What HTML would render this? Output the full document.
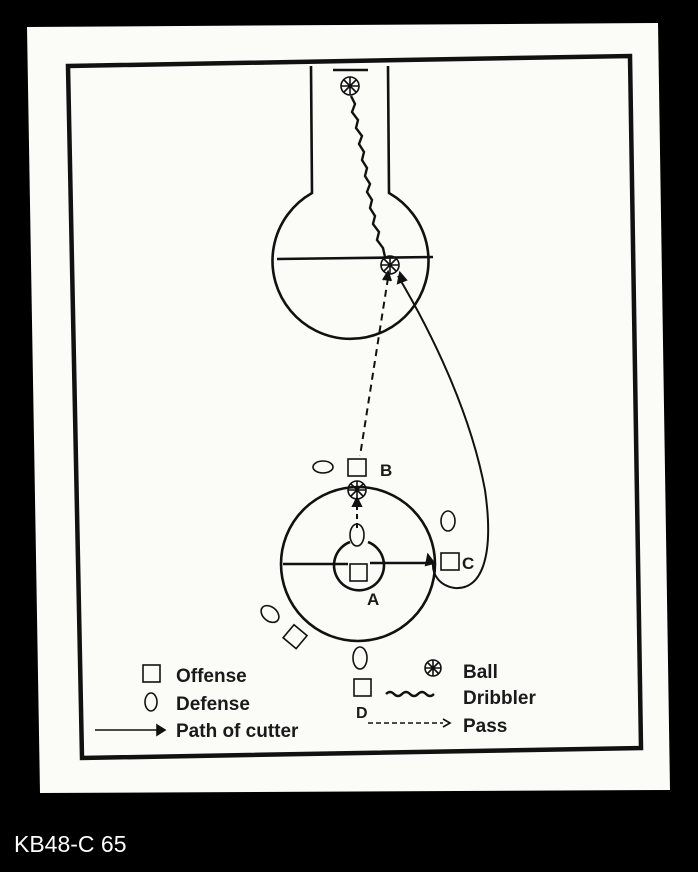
<!DOCTYPE html>
<html><head><style>
body{margin:0;background:#000;width:698px;height:867px;overflow:hidden;font-family:"Liberation Sans",sans-serif}
</style></head><body>
<svg width="698" height="867" viewBox="0 0 698 867" xmlns="http://www.w3.org/2000/svg">
<rect width="698" height="867" fill="#000"/>
<polygon points="27,27 658,23 670,790 40,793" fill="#fbfbf8"/>
<polygon points="68,66 630,56 641,748 82,758" fill="none" stroke="#111" stroke-width="4.5"/>
<g stroke="#111" fill="none" stroke-width="2.6">
<path d="M311,66 L312,193 A78,78 0 1 0 389,193 L388,66"/>
<line x1="277" y1="259" x2="433" y2="257"/>
<line x1="333" y1="70" x2="368" y2="70"/>
<circle cx="358" cy="564" r="77"/>
<line x1="283" y1="564" x2="348" y2="564"/>
<line x1="370" y1="563" x2="435" y2="563"/>
<path d="M350,542 A25,25 0 1 0 368,542"/>
<polyline stroke-width="2.4" points="351,96 355,104 352,112 358,120 356,128 362,136 359,144 364,152 362,160 367,168 365,176 370,184 367,192 372,200 370,208 375,216 373,224 379,232 377,240 383,248 385,257"/>
</g>
<g stroke="#111" fill="none" stroke-width="2">
<line x1="388" y1="278" x2="360" y2="456" stroke-dasharray="7,5"/>
<path d="M383,280 l5,-8 l3,9" fill="#111"/>
<path d="M398,276 C430,330 470,410 485,490 C495,560 480,590 455,588 C440,586 432,575 433,563"/>
<path d="M400,273 l-2,10 l8,-3z" fill="#111"/>
<path d="M428,555 l6,8 l-8,2z" fill="#111"/>
<line x1="357" y1="528" x2="357" y2="502" stroke-dasharray="5,4"/>
<path d="M353,506 l4,-8 l4,8z" fill="#111"/>
<g stroke-width="1.6">
<circle cx="350" cy="86" r="9"/><path d="M350,77v18M341,86h18M344,80l12,12M356,80l-12,12"/>
<circle cx="390" cy="265" r="9"/><path d="M390,256v18M381,265h18M384,259l12,12M396,259l-12,12"/>
<circle cx="357" cy="490" r="9"/><path d="M357,481v18M348,490h18M351,484l12,12M363,484l-12,12"/>
<rect x="348" y="459" width="18" height="17"/>
<rect x="350" y="564" width="17" height="17"/>
<rect x="441" y="553" width="18" height="17"/>
<rect x="354" y="679" width="17" height="17"/>
<rect x="287" y="628" width="17" height="17" transform="rotate(40 295 636)"/>
<ellipse cx="323" cy="467" rx="10" ry="6"/>
<ellipse cx="357" cy="535" rx="7" ry="11"/>
<ellipse cx="448" cy="521" rx="7" ry="10"/>
<ellipse cx="270" cy="614" rx="7" ry="10" transform="rotate(-50 270 614)"/>
<ellipse cx="360" cy="658" rx="7" ry="11"/>
<rect x="143" y="665" width="17" height="17"/>
<ellipse cx="151" cy="702" rx="6" ry="9"/>
<circle cx="433" cy="668" r="8"/><path d="M433,660v16M425,668h16M427,662l12,12M439,662l-12,12"/>
<path d="M386,694 q4,-4 8,0 t8,0 t8,0 t8,0 t8,0 t8,0" stroke-width="2.4"/>
<line x1="95" y1="730" x2="160" y2="730"/>
<path d="M157,725 l8,5 l-8,5z" fill="#111"/>
<line x1="368" y1="723" x2="443" y2="723" stroke-dasharray="5,3"/>
<path d="M443,719 l7,4 l-7,4" />
</g>
</g>
<g font-family="Liberation Sans,sans-serif" font-weight="bold" fill="#1a1a1a">
<text x="380" y="476" font-size="17">B</text>
<text x="462" y="569" font-size="17">C</text>
<text x="367" y="605" font-size="17">A</text>
<text x="356" y="718" font-size="16">D</text>
<text x="176" y="682" font-size="19">Offense</text>
<text x="176" y="710" font-size="19">Defense</text>
<text x="176" y="737" font-size="19">Path of cutter</text>
<text x="463" y="678" font-size="19">Ball</text>
<text x="463" y="704" font-size="19">Dribbler</text>
<text x="463" y="732" font-size="19">Pass</text>
</g>
<text x="14" y="852" font-size="23" fill="#fff" font-family="Liberation Sans,sans-serif">KB48-C 65</text>
</svg>
</body></html>
